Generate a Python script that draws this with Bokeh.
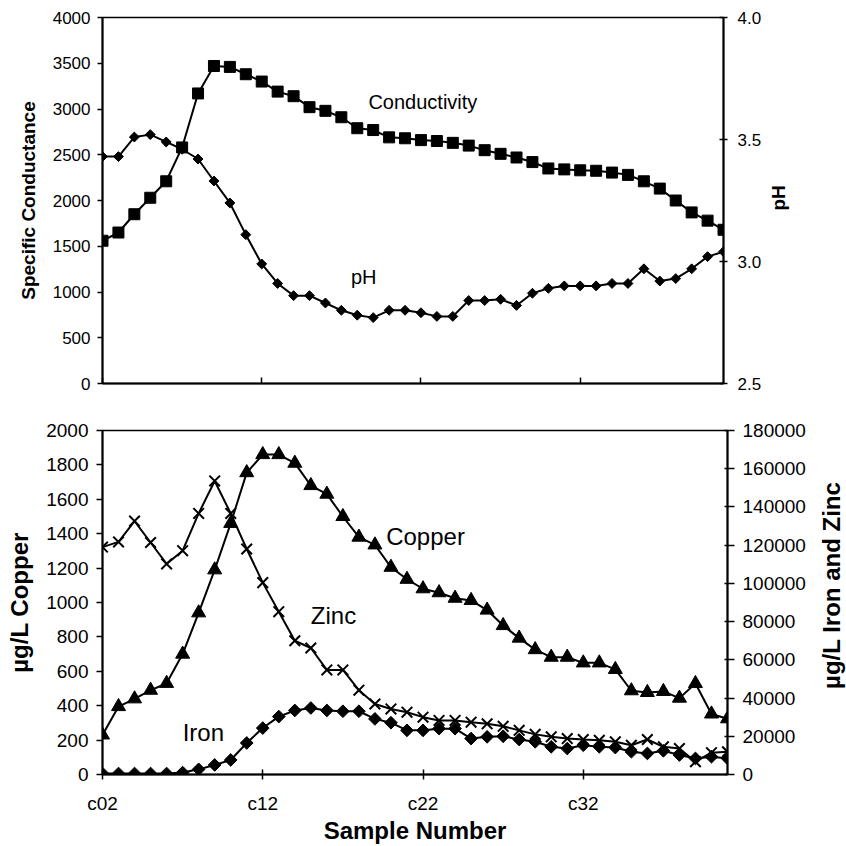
import math
from bokeh.plotting import figure
from bokeh.models import Range1d, LinearAxis, FixedTicker, Label, PrintfTickFormatter, BasicTickFormatter
from bokeh.layouts import column, row
from bokeh.embed import file_html
from bokeh.resources import INLINE

# ---------------- data ----------------
samples = ["c%02d" % n for n in range(2, 42)]
tick_idx = [0, 10, 20, 30]
tick_labels = ["c02", "c12", "c22", "c32"]

conductivity = [1560, 1650, 1850, 2030, 2210, 2580, 3170, 3470, 3460, 3380,
                3300, 3190, 3140, 3020, 2980, 2910, 2790, 2770, 2690, 2680,
                2660, 2650, 2630, 2600, 2550, 2510, 2470, 2420, 2350, 2340,
                2330, 2325, 2305, 2280, 2210, 2130, 2000, 1870, 1780, 1680]
ph = [3.43, 3.43, 3.51, 3.52, 3.49, 3.46, 3.42, 3.33, 3.24, 3.11,
      2.99, 2.91, 2.86, 2.86, 2.83, 2.80, 2.78, 2.77, 2.80, 2.80,
      2.79, 2.775, 2.775, 2.84, 2.84, 2.845, 2.82, 2.87, 2.89, 2.90,
      2.90, 2.90, 2.91, 2.91, 2.97, 2.92, 2.93, 2.97, 3.02, 3.04]
copper = [230, 395, 440, 490, 530, 700, 940, 1190, 1460, 1755,
          1860, 1860, 1810, 1680, 1630, 1500, 1380, 1335, 1205, 1135,
          1080, 1057, 1025, 1012, 956, 866, 793, 726, 682, 682,
          649, 649, 611, 487, 477, 483, 444, 529, 352, 324]
iron = [500, 500, 500, 500, 500, 1000, 2700, 5000, 7600, 16500,
        24300, 30300, 33500, 34800, 33500, 33100, 33100, 29100, 27100, 23100,
        23100, 24000, 24000, 18800, 19700, 20000, 18300, 17100, 14500, 13600,
        15300, 14500, 14100, 11900, 11000, 12400, 10200, 8400, 9300, 8400]
zinc = [119000, 121700, 132600, 121400, 110200, 117100, 136600, 153600, 136600, 118000,
        100400, 85200, 70000, 66200, 54700, 54700, 44100, 36900, 34300, 32600,
        30000, 28300, 28300, 27400, 26500, 25200, 23100, 21000, 19700, 18800,
        18300, 17900, 17100, 15300, 18300, 14500, 13600, 6700, 11400, 11900]

top_labels = ["Conductivity", "pH"]
top_label_x = [16.7, 15.6]
top_label_y = [3075, 1160]
bottom_labels = ["Copper", "Zinc", "Iron"]
bottom_label_x = [17.7, 13.0, 5.0]
bottom_label_y = [1385, 925, 247]

x = list(range(len(samples)))
FONT = "Liberation Sans"


def style_axis(ax, size, tick_in, tick_out, standoff):
    ax.axis_line_color = "black"
    ax.axis_line_width = 2
    ax.major_tick_line_color = "black"
    ax.major_tick_line_width = 1.5
    ax.major_tick_in = tick_in
    ax.major_tick_out = tick_out
    ax.minor_tick_line_color = None
    ax.major_label_text_font = FONT
    ax.major_label_text_font_size = size
    ax.major_label_text_color = "black"
    ax.major_label_standoff = standoff
    ax.axis_label_text_font = FONT
    ax.axis_label_text_font_style = "bold"
    ax.axis_label_text_color = "black"


def title_strip(width, height, text, size, fx, fy):
    """A bare strip that carries a right-hand axis title reading bottom-to-top."""
    s = figure(width=width, height=height, x_range=Range1d(0, 1), y_range=Range1d(0, 1),
               x_axis_type=None, y_axis_type=None, output_backend="svg", toolbar_location=None,
               min_border=0, outline_line_color=None)
    s.grid.visible = False
    s.add_layout(Label(x=fx, y=fy, text=text, angle=math.pi / 2, text_font=FONT,
                       text_font_size=size, text_font_style="bold", text_align="center",
                       text_baseline="middle", text_color="black"))
    return s


# ---------------- top panel ----------------
p1 = figure(width=764, height=406, x_range=Range1d(0, 39), y_range=Range1d(0, 4000),
            output_backend="svg", toolbar_location=None,
            min_border_left=102, min_border_right=41, min_border_top=17, min_border_bottom=23)
p1.extra_y_ranges = {"ph": Range1d(2.5, 4.0)}
p1.grid.visible = False
p1.outline_line_color = "black"
p1.outline_line_width = 1.5

p1.xaxis.ticker = FixedTicker(ticks=tick_idx)
p1.xaxis.major_label_overrides = {t: "" for t in tick_idx}
style_axis(p1.xaxis[0], "1px", 6, 0, 0)

ly = p1.yaxis[0]
ly.ticker = FixedTicker(ticks=list(range(0, 4001, 500)))
style_axis(ly, "17px", 0, 5, 7)
ly.axis_label = "Specific Conductance"
ly.axis_label_text_font_size = "19px"
ly.axis_label_standoff = 11

ry = LinearAxis(y_range_name="ph", ticker=FixedTicker(ticks=[2.5, 3.0, 3.5, 4.0]),
                formatter=PrintfTickFormatter(format="%.1f"))
style_axis(ry, "17px", 4, 4, 10)
p1.add_layout(ry, "right")

p1.line(x, conductivity, line_color="black", line_width=2)
p1.scatter(x, conductivity, marker="square", size=11, fill_color="black", line_color="black")
p1.line(x, ph, y_range_name="ph", line_color="black", line_width=2)
p1.scatter(x, ph, y_range_name="ph", marker="square", angle=math.pi / 4, size=7,
           fill_color="black", line_color="black")

for t, lx, lyv in zip(top_labels, top_label_x, top_label_y):
    p1.add_layout(Label(x=lx, y=lyv, text=t, text_font=FONT, text_font_size="20px",
                        text_baseline="middle", text_align="left", text_color="black"))

s1 = title_strip(28, 406, "pH", "19px", 0.5, 0.507)

# ---------------- bottom panel ----------------
p2 = figure(width=812, height=440, x_range=Range1d(0, 39), y_range=Range1d(0, 2000),
            output_backend="svg", toolbar_location=None,
            min_border_left=102, min_border_right=85, min_border_top=24, min_border_bottom=68)
p2.extra_y_ranges = {"fezn": Range1d(0, 180000)}
p2.grid.visible = False
p2.outline_line_color = "black"
p2.outline_line_width = 1.5

bx = p2.xaxis[0]
bx.ticker = FixedTicker(ticks=tick_idx)
bx.major_label_overrides = {t: l for t, l in zip(tick_idx, tick_labels)}
style_axis(bx, "19px", 5, 5, 13)
bx.major_label_text_line_height = 1.0
bx.axis_label = "Sample Number"
bx.axis_label_text_font_size = "24px"
bx.axis_label_text_line_height = 1.0
bx.axis_label_standoff = 0

bly = p2.yaxis[0]
bly.ticker = FixedTicker(ticks=list(range(0, 2001, 200)))
style_axis(bly, "19px", 0, 6, 8)
bly.axis_label = "µg/L Copper"
bly.axis_label_text_font_size = "24px"
bly.axis_label_standoff = 10

bry = LinearAxis(y_range_name="fezn", ticker=FixedTicker(ticks=list(range(0, 180001, 20000))),
                 formatter=BasicTickFormatter(use_scientific=False))
style_axis(bry, "19px", 3, 7, 8)
p2.add_layout(bry, "right")

p2.line(x, zinc, y_range_name="fezn", line_color="black", line_width=2)
p2.scatter(x, zinc, y_range_name="fezn", marker="x", size=15, line_color="black", line_width=2)
p2.line(x, iron, y_range_name="fezn", line_color="black", line_width=2)
p2.scatter(x, iron, y_range_name="fezn", marker="square", angle=math.pi / 4, size=9,
           fill_color="black", line_color="black")
p2.line(x, copper, line_color="black", line_width=2)
p2.scatter(x, copper, marker="triangle", size=14, fill_color="black", line_color="black")

for t, lx, lyv in zip(bottom_labels, bottom_label_x, bottom_label_y):
    p2.add_layout(Label(x=lx, y=lyv, text=t, text_font=FONT, text_font_size="24px",
                        text_baseline="middle", text_align="left", text_color="black"))

s2 = title_strip(34, 440, "µg/L Iron and Zinc", "24px", 0.56, 0.55)

layout = column(row(p1, s1, spacing=0), row(p2, s2, spacing=0), spacing=0)
open("out.html", "w").write(file_html(layout, INLINE))
